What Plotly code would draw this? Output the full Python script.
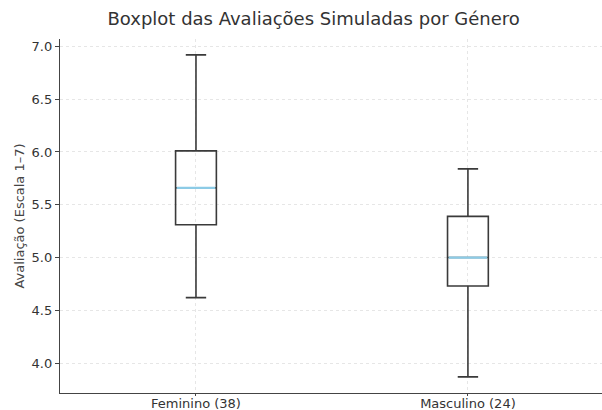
import plotly.graph_objects as go

categories = ["Feminino (38)", "Masculino (24)"]
lower_whisker = [4.62, 3.87]
q1_values = [5.31, 4.73]
median_values = [5.66, 5.00]
q3_values = [6.01, 5.39]
upper_whisker = [6.92, 5.84]
y_ticks = [4.0, 4.5, 5.0, 5.5, 6.0, 6.5, 7.0]

positions = list(range(len(categories)))
box_w = 0.15

fig = go.Figure()
for i, cat in enumerate(categories):
    fig.add_trace(go.Box(
        x=[positions[i]], q1=[q1_values[i]], median=[median_values[i]], q3=[q3_values[i]],
        lowerfence=[lower_whisker[i]], upperfence=[upper_whisker[i]],
        width=box_w, whiskerwidth=0.5, boxpoints=False,
        line=dict(color="#3a3a3a", width=1.6), fillcolor="rgba(255,255,255,0)",
        showlegend=False, hoverinfo="skip"))
    fig.add_trace(go.Scatter(
        x=[positions[i] - box_w / 2 + 0.004, positions[i] + box_w / 2 - 0.004],
        y=[median_values[i], median_values[i]],
        mode="lines", line=dict(color="#8ccbe6", width=2.2),
        showlegend=False, hoverinfo="skip"))

fig.update_layout(
    width=602, height=410,
    margin=dict(l=60, r=0, t=39, b=17),
    paper_bgcolor="white", plot_bgcolor="white",
    font=dict(family="DejaVu Sans", color="#333333"),
    title=dict(text="Boxplot das Avaliações Simuladas por Género",
               x=0.521, xanchor="center", y=0.955, yanchor="middle",
               font=dict(size=18, color="#333333")),
    xaxis=dict(range=[-0.5, 1.493], tickvals=positions, ticktext=categories,
               showgrid=True, gridcolor="#e6e6e6", griddash="dot", gridwidth=1,
               showline=True, linecolor="#444444", linewidth=1.3,
               ticks="outside", ticklen=2, tickcolor="#444444", automargin=False,
               ticklabelstandoff=-4,
               tickfont=dict(size=13, color="#333333"), zeroline=False),
    yaxis=dict(range=[3.717, 7.07], tickvals=y_ticks, tickformat=".1f",
               showgrid=True, gridcolor="#e6e6e6", griddash="dot", gridwidth=1,
               showline=True, linecolor="#444444", linewidth=1.3,
               ticks="outside", ticklen=4, tickcolor="#444444", automargin=False,
               tickfont=dict(size=13, color="#333333"), zeroline=False,
               title=dict(text="Avaliação (Escala 1–7)", font=dict(size=13, color="#444444"),
                          standoff=4)),
)

fig.write_html("out.html", config={"displayModeBar": False},
               post_script="document.body.style.margin='0';")
